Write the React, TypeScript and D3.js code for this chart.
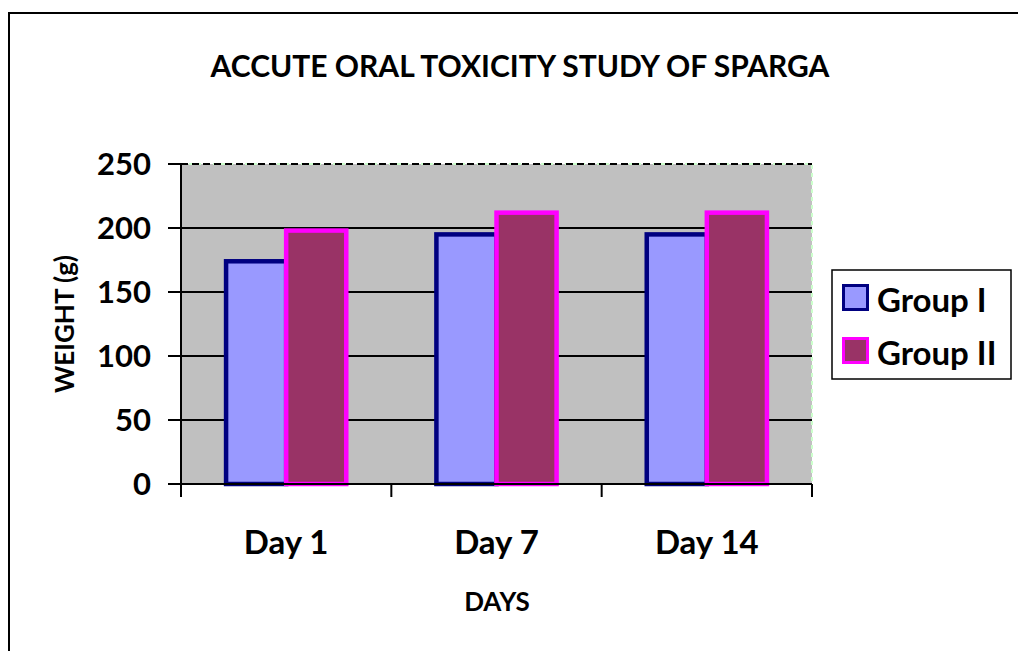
import * as d3 from 'd3';

const days = ['Day 1', 'Day 7', 'Day 14'];
const groups = ['Group I', 'Group II'];
const groupI = [174, 195, 195];
const groupII = [198, 212, 212];
const yTicks = [0, 50, 100, 150, 200, 250];

const fills = ['#9999FF', '#993366'];
const strokes = ['#000080', '#FF00FF'];

const W = 1018;
const H = 651;
const plot = { left: 181, right: 812, top: 164, bottom: 484 };
const FONT = 'Lato, "Open Sans", sans-serif';

export default function App() {
  const x = d3.scaleBand<string>().domain(days).range([plot.left, plot.right]).padding(0);
  const inner = d3
    .scaleBand<string>()
    .domain(groups)
    .range([0, x.bandwidth()])
    .paddingInner(0)
    .paddingOuter(0.75);
  const y = d3.scaleLinear().domain([0, 250]).range([plot.bottom, plot.top]);

  const series = [groupI, groupII];
  const xTicks = [...days.map(d => x(d) as number), plot.right];

  return (
    <svg
      width={W}
      height={H}
      style={{ position: 'absolute', left: 0, top: 0, background: '#fff' }}
      fontFamily={FONT}
    >
      {/* outer chart frame */}
      <rect x={9} y={13} width={1100} height={1000} fill="none" stroke="#000" strokeWidth={2} />

      <text x={520} y={77} textAnchor="middle" fontSize={30} fontWeight={700}>
        ACCUTE ORAL TOXICITY STUDY OF SPARGA
      </text>

      {/* plot area */}
      <rect
        x={plot.left}
        y={plot.top}
        width={plot.right - plot.left}
        height={plot.bottom - plot.top}
        fill="#C0C0C0"
        stroke="#CCFFCC"
        strokeWidth={2}
        strokeDasharray="4,4"
      />

      {/* gridlines */}
      {yTicks.slice(1).map(t => (
        <line
          key={t}
          x1={plot.left}
          x2={plot.right}
          y1={y(t)}
          y2={y(t)}
          stroke="#000"
          strokeWidth={2}
          strokeDasharray={t === 250 ? '7,4' : undefined}
        />
      ))}

      {/* bars */}
      {series.map((vals, si) =>
        days.map((d, di) => {
          const bx = (x(d) as number) + (inner(groups[si]) as number);
          return (
            <rect
              key={`${si}-${di}`}
              x={bx}
              y={y(vals[di])}
              width={inner.bandwidth()}
              height={plot.bottom - y(vals[di])}
              fill={fills[si]}
              stroke={strokes[si]}
              strokeWidth={4.5}
            />
          );
        })
      )}

      {/* axes */}
      <line x1={plot.left} x2={plot.left} y1={plot.top} y2={plot.bottom + 13} stroke="#000" strokeWidth={2} />
      <line x1={plot.left - 13} x2={plot.right} y1={plot.bottom} y2={plot.bottom} stroke="#000" strokeWidth={2} />
      {yTicks.map(t => (
        <g key={t}>
          <line x1={plot.left - 13} x2={plot.left} y1={y(t)} y2={y(t)} stroke="#000" strokeWidth={2} />
          <text x={151} y={y(t) + 11} textAnchor="end" fontSize={31} fontWeight={700}>
            {t}
          </text>
        </g>
      ))}
      {xTicks.map((tx, i) => (
        <line key={i} x1={tx} x2={tx} y1={plot.bottom} y2={plot.bottom + 13} stroke="#000" strokeWidth={2} />
      ))}
      {days.map(d => (
        <text
          key={d}
          x={(x(d) as number) + x.bandwidth() / 2}
          y={554}
          textAnchor="middle"
          fontSize={33}
          fontWeight={700}
        >
          {d}
        </text>
      ))}

      <text x={497} y={611} textAnchor="middle" fontSize={26} fontWeight={700}>
        DAYS
      </text>
      <text
        transform={`translate(74,${(plot.top + plot.bottom) / 2}) rotate(-90)`}
        textAnchor="middle"
        fontSize={26}
        fontWeight={700}
      >
        WEIGHT (g)
      </text>

      {/* legend */}
      <rect x={832} y={270} width={179} height={109} fill="#fff" stroke="#000" strokeWidth={1.5} />
      {groups.map((g, i) => (
        <g key={g} transform={`translate(0,${i * 53})`}>
          <rect x={843.5} y={285.5} width={24} height={24} fill={fills[i]} stroke={strokes[i]} strokeWidth={3} />
          <text x={877} y={312} fontSize={33} fontWeight={700}>
            {g}
          </text>
        </g>
      ))}
    </svg>
  );
}
